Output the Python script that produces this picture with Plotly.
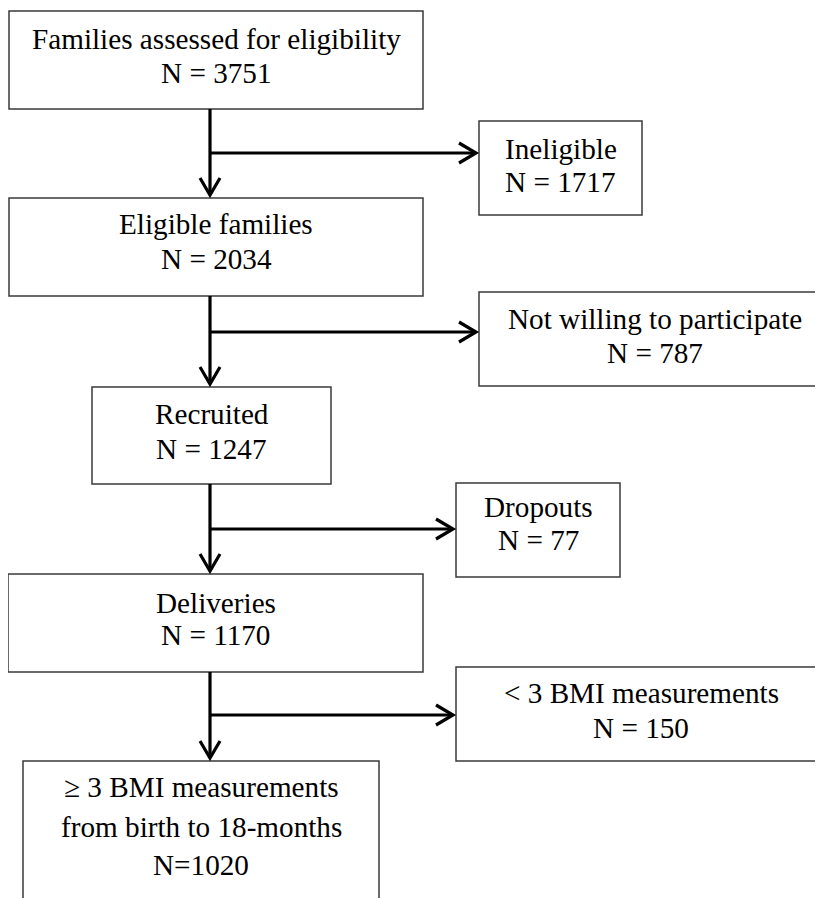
import plotly.graph_objects as go

# ---- data ----
stage_labels = ["Families assessed for eligibility", "Eligible families", "Recruited",
                "Deliveries", "≥ 3 BMI measurements<br>from birth to 18-months"]
stage_n = [3751, 2034, 1247, 1170, 1020]
stage_n_fmt = ["N = {}", "N = {}", "N = {}", "N = {}", "N={}"]

excl_labels = ["Ineligible", "Not willing to participate", "Dropouts", "< 3 BMI measurements"]
excl_n = [1717, 787, 77, 150]

# ---- layout geometry (pixels, y downward) ----
W, H = 823, 898
PAGE_OFF = 8  # default body margin of the html page
stage_boxes = [(9, 423, 11, 109), (9, 423, 198, 296), (92, 331, 387, 484),
               (8, 423, 574, 672), (23, 379, 761, 920)]
stage_baselines = [[49, 83], [234, 269], [424, 459], [613, 645], [797, 837, 875]]
excl_boxes = [(479, 642, 121, 215), (479, 840, 292, 386), (456, 620, 483, 577), (456, 820, 667, 761)]
excl_text_cx = [560.5, 655, 538, 641]
excl_baselines = [[159, 192], [329, 363], [517, 550], [703, 738]]
trunk_x = 210
branch_y = [153, 332, 529, 715]

FONT = "Liberation Serif, Times New Roman, serif"
FS = 29.2
BASE_OFF = 9.8  # baseline -> text box centre
BOX_COL = "#3a3a3a"

fig = go.Figure()
shapes, annos = [], []


def add_box(b, lines, baselines, cx=None):
    x0, x1, y0, y1 = b
    shapes.append(dict(type="rect", x0=x0, x1=x1, y0=y0, y1=y1, xref="x", yref="y",
                       line=dict(color=BOX_COL, width=1.5), fillcolor="white", layer="above"))
    if cx is None:
        cx = (x0 + x1) / 2
    for t, bl in zip(lines, baselines):
        annos.append(dict(x=cx, y=bl - BASE_OFF, xref="x", yref="y", text=t, showarrow=False,
                          xanchor="center", yanchor="middle",
                          font=dict(family=FONT, size=FS, color="black")))


for i, lab in enumerate(stage_labels):
    lines = lab.split("<br>") + [stage_n_fmt[i].format(stage_n[i])]
    add_box(stage_boxes[i], lines, stage_baselines[i])

for i, lab in enumerate(excl_labels):
    lines = [lab, "N = {}".format(excl_n[i])]
    add_box(excl_boxes[i], lines, excl_baselines[i], excl_text_cx[i])

# arrows
AR = dict(color="black", width=3.2)
HL, HW = 17, 10
for i in range(4):
    top = stage_boxes[i][3]
    tip = stage_boxes[i + 1][2] - 3
    shapes.append(dict(type="line", x0=trunk_x, x1=trunk_x, y0=top, y1=tip - 1, line=AR))
    shapes.append(dict(type="path",
                       path=f"M {trunk_x-HW},{tip-HL} L {trunk_x},{tip} L {trunk_x+HW},{tip-HL}",
                       line=AR))
    by = branch_y[i]
    tx = excl_boxes[i][0] - 3
    shapes.append(dict(type="line", x0=trunk_x, x1=tx - 1, y0=by, y1=by, line=AR))
    shapes.append(dict(type="path",
                       path=f"M {tx-HL},{by-HW} L {tx},{by} L {tx-HL},{by+HW}",
                       line=AR))

fig.update_layout(
    width=W, height=H, margin=dict(l=0, r=0, t=0, b=0),
    paper_bgcolor="white", plot_bgcolor="white",
    xaxis=dict(range=[PAGE_OFF, W + PAGE_OFF], visible=False, fixedrange=True),
    yaxis=dict(range=[H + PAGE_OFF, PAGE_OFF], visible=False, fixedrange=True),
    shapes=shapes, annotations=annos, showlegend=False,
)
fig.write_html("out.html")
